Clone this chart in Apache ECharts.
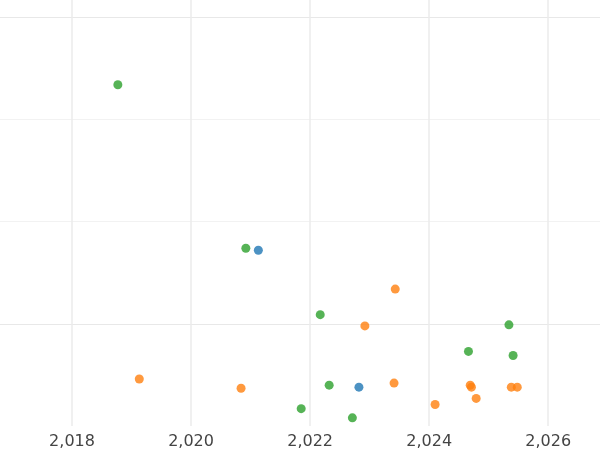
<!DOCTYPE html>
<html>
<head>
<meta charset="utf-8">
<script src="https://cdn.jsdelivr.net/npm/echarts@6/dist/echarts.min.js"></script>
<style>html,body{margin:0;padding:0;background:#fff}#c{width:600px;height:450px}</style>
</head>
<body>
<div id="c"></div>
<script>
// 数据：[年份, 数值]
var greenPts = [[2018.77, 3.34], [2020.92, 1.74], [2022.17, 1.09], [2025.34, 0.99], [2024.66, 0.73],
  [2025.41, 0.69], [2022.32, 0.40], [2021.85, 0.17], [2022.71, 0.08]];
var bluePts = [[2021.13, 1.72], [2022.82, 0.38]];
var orangePts = [[2023.43, 1.34], [2022.92, 0.98], [2019.13, 0.46], [2020.84, 0.37], [2023.41, 0.42],
  [2024.69, 0.40], [2024.71, 0.38], [2025.38, 0.38], [2025.48, 0.38], [2024.79, 0.27], [2024.10, 0.21]];
var xTicks = [2018, 2020, 2022, 2024, 2026];

var chart = echarts.init(document.getElementById('c'));
function dots(data, color) {
  return { type: 'scatter', data: data, symbolSize: 9, itemStyle: { color: color } };
}
chart.setOption({
  animation: false,
  grid: { left: 0, right: 0, top: 0, bottom: 22.5 },
  xAxis: {
    type: 'value', min: 2016.79, max: 2026.87,
    axisLine: { show: false },
    axisTick: { show: false, customValues: xTicks },
    axisLabel: { customValues: xTicks, color: '#444', fontSize: 16, margin: 8, fontFamily: 'DejaVu Sans' },
    splitLine: { show: true, lineStyle: { color: '#ebebeb', width: 1.5 } }
  },
  yAxis: {
    type: 'value', min: 0, max: 4.17, interval: 1,
    axisLine: { show: false }, axisTick: { show: false }, axisLabel: { show: false },
    splitLine: { lineStyle: { color: ['rgba(0,0,0,0)', '#e8e8e8', '#f2f2f2', '#f2f2f2', '#e8e8e8'] } }
  },
  series: [dots(greenPts, '#2ca02c'), dots(bluePts, '#1f77b4'), dots(orangePts, '#ff7f0e')]
});
</script>
</body>
</html>
